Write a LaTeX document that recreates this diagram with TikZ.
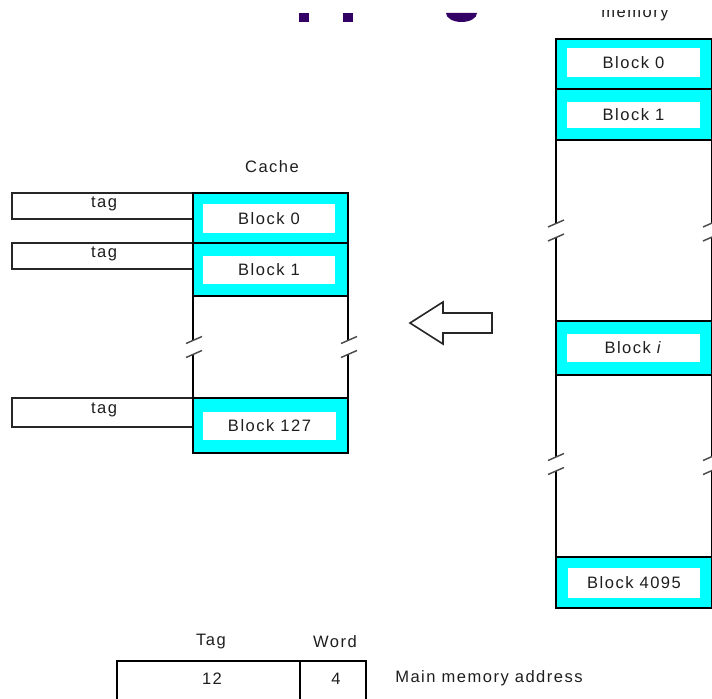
\documentclass[tikz,border=0pt]{standalone}
\usepackage{fontspec}
\setmainfont{Liberation Sans}[LetterSpace=9]
\definecolor{cyanfill}{RGB}{0,255,255}
\definecolor{titlepurple}{RGB}{51,0,102}
\definecolor{txt}{RGB}{30,30,30}
\newcommand{\lblfont}{\fontsize{12.4}{14.5}\selectfont}
\tikzset{
  blk/.style={draw=black, line width=1.5pt, fill=cyanfill},
  whitebox/.style={fill=white, draw=none},
  tagbox/.style={draw=black!85, line width=1.4pt, fill=white},
  colline/.style={draw=black, line width=1.2pt},
  brk/.style={draw=black!70, line width=1.1pt},
  lbl/.style={font=\lblfont, text=txt, inner sep=0pt},
  hollowarrow/.style={draw=black!85, line width=1.2pt, fill=white, line join=miter},
}
\newcommand{\brkmark}[2]{%
  \draw[brk] (#1-8,#2+3.5) -- (#1+8,#2-3.5);
  \draw[brk] (#1-8,#2+17.5) -- (#1+8,#2+10.5);}
\begin{document}
\begin{tikzpicture}[x=0.75pt,y=-0.75pt]
\begin{scope}
\clip (0,0) rectangle (712,698);
% title fragments
\fill[titlepurple] (299,13) rectangle (309,22);
\fill[titlepurple] (343,13) rectangle (353,22);
\fill[titlepurple] (446,13) arc[start angle=180, end angle=0, x radius=15.5, y radius=9] -- cycle;
% memory label (cut at top)
\begin{scope}
\clip (560,10.5) rectangle (700,30);
\node[lbl, anchor=base] (memlbl) at (635,18) {memory};
\end{scope}

% ---------- Cache ----------
\node[lbl] (cachelbl) at (272,167) {Cache};
\draw[tagbox] (12,193) rectangle (193,219);
\draw[tagbox] (12,243) rectangle (193,269);
\draw[tagbox] (12,398) rectangle (193,427);
\node[lbl] (tag0) at (104,204) {tag};
\node[lbl] (tag1) at (104,254) {tag};
\node[lbl] (tag127) at (104,410) {tag};

\draw[blk] (193,193) rectangle (348,243);
\fill[whitebox] (203,204) rectangle (335,233);
\node[lbl] (cb0) at (269,218.5) {Block 0};
\draw[blk] (193,243) rectangle (348,296);
\fill[whitebox] (203,256) rectangle (335,284);
\node[lbl] (cb1) at (269,270) {Block 1};

\draw[colline] (193,296) -- (193,340);
\draw[colline] (193,354) -- (193,398);
\draw[colline] (348,296) -- (348,340);
\draw[colline] (348,354) -- (348,398);
\brkmark{194}{340}
\brkmark{349}{340}

\draw[blk] (193,398) rectangle (348,453);
\fill[whitebox] (203,412) rectangle (336,440);
\node[lbl] (cb127) at (269.5,426) {Block 127};

% ---------- arrow ----------
\draw[hollowarrow] (410,323) -- (443,302) -- (443,313) -- (492,313) -- (492,333) -- (443,333) -- (443,344) -- cycle;

% ---------- Main memory ----------
\draw[blk] (556,39) rectangle (711.5,89);
\fill[whitebox] (567,48) rectangle (700,77);
\node[lbl] (mb0) at (633.5,62.5) {Block 0};
\draw[blk] (556,89) rectangle (711.5,140);
\fill[whitebox] (567,102) rectangle (700,128);
\node[lbl] (mb1) at (633.5,115) {Block 1};

\draw[colline] (556,140) -- (556,223.5);
\draw[colline] (556,237.5) -- (556,321);
\draw[colline] (711.5,140) -- (711.5,223.5);
\draw[colline] (711.5,237.5) -- (711.5,321);
\brkmark{556}{223.5}
\brkmark{711}{223.5}

\draw[blk] (556,321) rectangle (711.5,375);
\fill[whitebox] (567,334) rectangle (700,362);
\node[lbl] (mbi) at (633.5,348) {Block \textit{i}};

\draw[colline] (556,375) -- (556,457);
\draw[colline] (556,471) -- (556,557);
\draw[colline] (711.5,375) -- (711.5,457);
\draw[colline] (711.5,471) -- (711.5,557);
\brkmark{556}{457}
\brkmark{711}{457}

\draw[blk] (556,557) rectangle (711.5,608);
\fill[whitebox] (568,568) rectangle (700,598);
\node[lbl] (mb4095) at (634,583) {Block 4095};

% ---------- address format ----------
\node[lbl] (taglbl) at (211,642) {Tag};
\node[lbl] (wordlbl) at (335,642) {Word};
\draw[colline, line width=1.4pt] (117,710) -- (117,661) -- (366,661) -- (366,710);
\draw[colline, line width=1.4pt] (300,661) -- (300,710);
\node[lbl] (f12) at (212,679) {12};
\node[lbl] (f4) at (336,679) {4};
\node[lbl, anchor=west] (mmaddr) at (395,678) {Main memory address};
\end{scope}
\pgfresetboundingbox
\path[use as bounding box] (0,0) rectangle (712,698);
\end{tikzpicture}
\end{document}
